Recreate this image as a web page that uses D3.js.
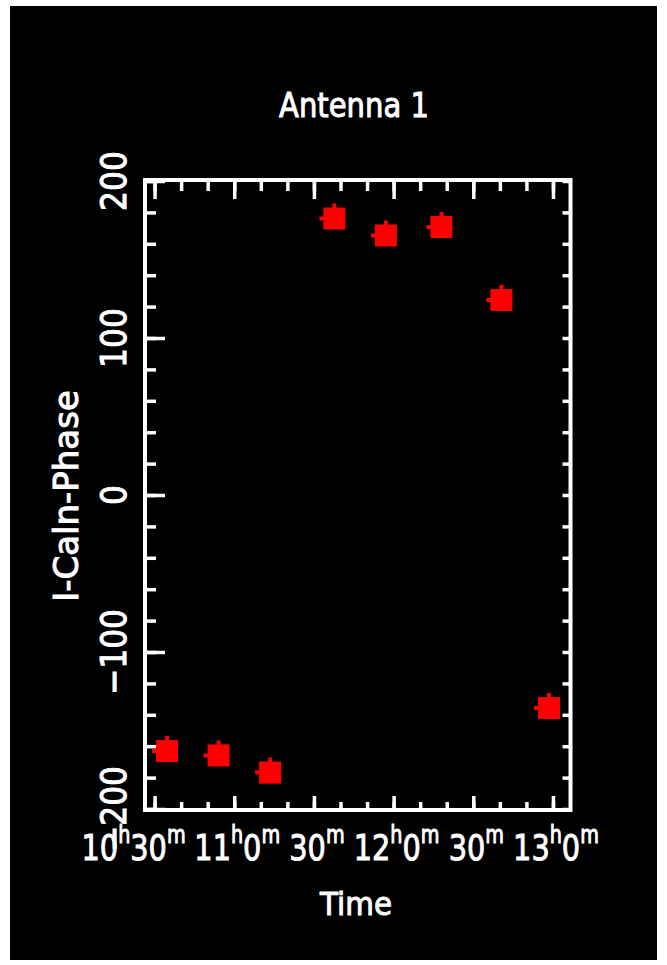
<!DOCTYPE html>
<html>
<head>
<meta charset="utf-8">
<script src="https://cdn.jsdelivr.net/npm/d3@7"></script>
<style>
  html, body { margin: 0; padding: 0; background: #fff; }
  svg { display: block; }
  text { font-family: 'DejaVu Sans', sans-serif; fill: #fff; stroke: #fff; stroke-width: 1; }
</style>
</head>
<body>
<svg id="chart" width="667" height="965"></svg>
<script>
const obsTimes = ['10:34:42', '10:54:06', '11:13:30', '11:37:42', '11:57:06', '12:18:00', '12:40:36', '12:58:30'];
const phases = [-163.1, -165.9, -176.8, 176.1, 165.3, 170.7, 124.2, -135.7];

const xDomain = ['10:26:24', '13:06:36'];
const xTicks = ['10:30:00', '11:00:00', '11:30:00', '12:00:00', '12:30:00', '13:00:00'];
const xTickLabels = ['10h30m', '11h0m', '30m', '12h0m', '30m', '13h0m'];

const yDomain = [-200, 200];
const yTicks = [-200, -100, 0, 100, 200];
const yTickLabels = ['\u2212200', '\u2212100', '0', '100', '200'];

const title = 'Antenna 1';
const xTitle = 'Time';
const yTitle = 'I-Caln-Phase';

const parseTime = d3.timeParse('%H:%M:%S');
const svg = d3.select('#chart');

// black panel
svg.append('rect')
  .attr('x', 10).attr('y', 6)
  .attr('width', 647).attr('height', 954)
  .attr('fill', '#000');

const margin = { top: 180, left: 145 };
const width = 425.5;
const height = 630;
const g = svg.append('g').attr('transform', `translate(${margin.left},${margin.top})`);

const x = d3.scaleTime()
  .domain(xDomain.map(parseTime))
  .range([0, width]);

const y = d3.scaleLinear()
  .domain(yDomain)
  .range([height - 1, 1]);

const majorX = xTicks.map(parseTime);
const minorX = x.ticks(d3.timeMinute.every(10));
const minorY = y.ticks(20);

// inward ticks on all four sides
function addTicks(axis, transform) {
  g.append('g')
    .attr('transform', transform)
    .call(axis.tickFormat(''))
    .call(a => a.select('.domain').remove())
    .selectAll('line')
    .attr('stroke', '#fff')
    .attr('stroke-width', 3.5);
}

addTicks(d3.axisTop(x).tickValues(minorX).tickSize(-11), 'translate(0,0)');
addTicks(d3.axisTop(x).tickValues(majorX).tickSize(-19), 'translate(0,0)');
addTicks(d3.axisBottom(x).tickValues(minorX).tickSize(-8), `translate(0,${height})`);
addTicks(d3.axisBottom(x).tickValues(majorX).tickSize(-14), `translate(0,${height})`);
addTicks(d3.axisLeft(y).tickValues(minorY).tickSize(-11), 'translate(0,0)');
addTicks(d3.axisLeft(y).tickValues(yTicks).tickSize(-20), 'translate(0,0)');
addTicks(d3.axisRight(y).tickValues(minorY).tickSize(-8), `translate(${width},0)`);

// frame
g.append('rect')
  .attr('width', width)
  .attr('height', height)
  .attr('fill', 'none')
  .attr('stroke', '#fff')
  .attr('stroke-width', 4);

// x tick labels with superscript h / m
const xLabels = g.append('g').attr('class', 'x-labels');
xTickLabels.forEach((lab, i) => {
  const dx = i === 0 ? -21 : 3;
  const t = xLabels.append('text')
    .attr('text-anchor', 'middle')
    .attr('transform', `translate(${x(majorX[i]) + dx},${height + 50}) scale(0.8,1)`);
  let raised = false;
  for (const m of lab.matchAll(/(\d+)([hm])/g)) {
    t.append('tspan')
      .attr('font-size', 36)
      .attr('dy', raised ? 17 : 0)
      .text(m[1]);
    t.append('tspan')
      .attr('font-size', 24)
      .attr('dy', -17)
      .text(m[2]);
    raised = true;
  }
});

// y tick labels, rotated
g.append('g').attr('class', 'y-labels')
  .selectAll('text')
  .data(yTicks)
  .enter()
  .append('text')
  .attr('text-anchor', 'middle')
  .attr('font-size', 36)
  .attr('transform', d => `translate(-19,${y(d)}) rotate(-90) scale(0.87,1)`)
  .text((d, i) => yTickLabels[i]);

// titles
svg.append('text')
  .attr('text-anchor', 'middle')
  .attr('font-size', 33)
  .attr('transform', 'translate(354,117) scale(0.88,1)')
  .text(title);

svg.append('text')
  .attr('text-anchor', 'middle')
  .attr('font-size', 32)
  .attr('transform', 'translate(356,915) scale(0.92,1)')
  .text(xTitle);

svg.append('text')
  .attr('text-anchor', 'middle')
  .attr('font-size', 34)
  .attr('transform', `translate(78,${margin.top + y(0) + 1}) rotate(-90)`)
  .text(yTitle);

// data points: filled square with small error stubs
const data = obsTimes.map((t, i) => ({ time: parseTime(t), phase: phases[i] }));
const pts = g.append('g').attr('class', 'points')
  .selectAll('g')
  .data(data)
  .enter()
  .append('g');

pts.append('path')
  .attr('d', d => {
    const cx = x(d.time), cy = y(d.phase);
    return `M${cx},${cy - 15}V${cy}M${cx - 15},${cy}H${cx}`;
  })
  .attr('stroke', '#f00')
  .attr('stroke-width', 4);

pts.append('rect')
  .attr('x', d => x(d.time) - 11)
  .attr('y', d => y(d.phase) - 11)
  .attr('width', 22)
  .attr('height', 22)
  .attr('fill', '#f00');
</script>
</body>
</html>
